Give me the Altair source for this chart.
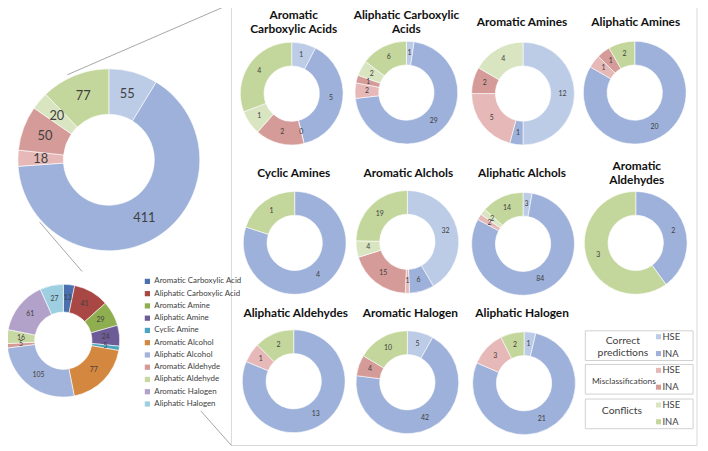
import altair as alt
import pandas as pd

# ---------------- data ----------------
classes = ["Correct HSE", "Correct INA", "Misclassification HSE",
           "Misclassification INA", "Conflict HSE", "Conflict INA"]
class_colors = ["#bccbe6", "#9db1da", "#e6b9b8", "#d49b98", "#d9e5c0", "#c3d69b"]

overall = [55, 411, 18, 50, 20, 77]

group_keys = ["arom_carb", "aliph_carb", "arom_amine", "aliph_amine",
              "cyclic_amine", "arom_alc", "aliph_alc", "arom_ald",
              "aliph_ald", "arom_hal", "aliph_hal"]
group_titles = [["Aromatic", "Carboxylic Acids"], ["Aliphatic Carboxylic", "Acids"],
                ["Aromatic Amines"], ["Aliphatic Amines"],
                ["Cyclic Amines"], ["Aromatic Alchols"], ["Aliphatic Alchols"],
                ["Aromatic", "Aldehydes"],
                ["Aliphatic Aldehydes"], ["Aromatic Halogen"], ["Aliphatic Halogen"]]
arom_carb = [1, 5, 0, 2, 1, 4]
aliph_carb = [1, 29, 2, 1, 2, 6]
arom_amine = [12, 1, 5, 2, 4, None]
aliph_amine = [None, 20, 1, 1, None, 2]
cyclic_amine = [None, 4, None, None, None, 1]
arom_alc = [32, 6, 1, 15, 4, 19]
aliph_alc = [3, 84, 2, None, 2, 14]
arom_ald = [None, 2, None, None, None, 3]
aliph_ald = [None, 13, 1, None, None, 2]
arom_hal = [5, 42, None, 4, None, 10]
aliph_hal = [1, 21, 3, None, None, 2]
group_values = [arom_carb, aliph_carb, arom_amine, aliph_amine, cyclic_amine,
                arom_alc, aliph_alc, arom_ald, aliph_ald, arom_hal, aliph_hal]

families = ["Aromatic Carboxylic Acid", "Aliphatic Carboxylic Acid", "Aromatic Amine",
            "Aliphatic Amine", "Cyclic Amine", "Aromatic Alcohol", "Aliphatic Alcohol",
            "Aromatic Aldehyde", "Aliphatic Aldehyde", "Aromatic Halogen", "Aliphatic Halogen"]
family_counts = [13, 41, 29, 24, 5, 77, 105, 5, 16, 61, 27]
family_colors = ["#4a70ad", "#a94744", "#8fae50", "#6d5b97", "#4aa5be", "#d4883f",
                 "#a2b3db", "#d49a98", "#c8d8a2", "#b2a2c9", "#9dcfe0"]

legend_groups = [["Correct", "predictions"], ["Misclassifications"], ["Conflicts"]]
legend_sub = ["HSE", "INA"]

# ---------------- tables ----------------
rows = []
for key, vals in [("overall", overall)] + list(zip(group_keys, group_values)):
    for i, (c, v) in enumerate(zip(classes, vals)):
        if v is None:
            continue
        rows.append({"donut": key, "cat": c, "idx": i, "value": v, "label": str(v)})
for i, (f, v) in enumerate(zip(families, family_counts)):
    rows.append({"donut": "families", "cat": f, "idx": i, "value": v, "label": str(v)})
df = pd.DataFrame(rows)

FONT = "Lato"
LABEL_COLOR = "#404040"
one = pd.DataFrame({"a": [0]})

layers = []

# panel box
layers.append(alt.Chart(one).mark_rect(fill="white", stroke="#d9d9d9", strokeWidth=1).encode(
    x=alt.value(226), x2=alt.value(697), y=alt.value(-7), y2=alt.value(440)))

# connector lines
for (x1, y1, x2, y2) in [(60, 65, 226, -7), (32, 214, 75, 264), (195, 405, 226, 440)]:
    layers.append(alt.Chart(one).mark_rule(color="#a6a6a6", strokeWidth=1).encode(
        x=alt.value(x1), y=alt.value(y1), x2=alt.value(x2), y2=alt.value(y2)))


def donut(key, cx, cy, r_out, r_in, fsize, domain, rng, legend=None, fweight="normal"):
    base = alt.Chart(df).transform_filter(alt.datum.donut == key)
    arc = base.mark_arc(innerRadius=r_in, outerRadius=r_out, stroke="white",
                        strokeWidth=0.6).encode(
        theta=alt.Theta("value:Q", stack=True),
        color=alt.Color("cat:N", scale=alt.Scale(domain=domain, range=rng), legend=legend),
        order=alt.Order("idx:Q"),
        x=alt.value(cx), y=alt.value(cy))
    txt = base.mark_text(radius=(r_in + r_out) / 2, fontSize=fsize, font=FONT,
                         color=LABEL_COLOR, fontWeight=fweight).encode(
        theta=alt.Theta("value:Q", stack=True),
        order=alt.Order("idx:Q"),
        text="label:N",
        x=alt.value(cx), y=alt.value(cy))
    return [arc, txt]


# big overall donut
layers += donut("overall", 102, 151, 92, 46, 13, classes, class_colors)

# family donut with legend
fam_legend = alt.Legend(title=None, orient="none", legendX=137, legendY=270,
                        symbolType="square", symbolSize=28, symbolStrokeWidth=0,
                        labelFontSize=8, labelFont=FONT, labelColor=LABEL_COLOR,
                        rowPadding=4.4, labelOffset=3)
layers += donut("families", 56, 334, 57, 29, 7, families, family_colors, legend=fam_legend)

# small donuts
centers = [(287, 84), (403, 83), (521, 84), (634, 83),
           (290, 235), (404, 234), (521, 236), (635, 235),
           (289, 375), (404, 376), (522, 377)]
# y is the first line's position
title_pos = [(289, 5), (403, 5), (520, 12), (635, 12),
             (289, 164), (405, 164), (520, 164), (636, 157),
             (291, 306), (407, 306), (520, 306)]
for key, title, (cx, cy), (tx, ty) in zip(group_keys, group_titles, centers, title_pos):
    layers += donut(key, cx, cy, 52, 28, 7, classes, class_colors)
    layers.append(alt.Chart(one).mark_text(
        text=title, font=FONT, fontSize=12, fontWeight="bold", color="#111111",
        align="center", baseline="middle", lineHeight=14).encode(
        x=alt.value(tx), y=alt.value(ty)))

# class legend (boxes)
box_y = [(324, 354), (358, 388), (393, 423)]
group_text_pos = [(622, 334), (623, 375), (621, 405)]
group_font = [10.5, 8.5, 10.5]
for gi, ((y1, y2), gname, (gx, gy), gf) in enumerate(zip(box_y, legend_groups,
                                                           group_text_pos, group_font)):
    layers.append(alt.Chart(one).mark_rect(fill="white", stroke="#d0d0d0", strokeWidth=1).encode(
        x=alt.value(584), x2=alt.value(693), y=alt.value(y1), y2=alt.value(y2)))
    layers.append(alt.Chart(one).mark_text(
        text=gname, font=FONT, fontSize=gf, color=LABEL_COLOR, align="center",
        baseline="middle", lineHeight=12).encode(x=alt.value(gx), y=alt.value(gy)))
    for si, sub in enumerate(legend_sub):
        sy = y1 + 6 + si * 17
        layers.append(alt.Chart(one).mark_square(size=26, color=class_colors[gi * 2 + si],
                                                 opacity=1).encode(
            x=alt.value(658), y=alt.value(sy)))
        layers.append(alt.Chart(one).mark_text(
            text=sub, font=FONT, fontSize=9.5, color=LABEL_COLOR, align="left",
            baseline="middle").encode(x=alt.value(662), y=alt.value(sy)))

chart = alt.layer(*layers).resolve_scale(theta="independent", color="independent").properties(
    width=700, height=443, padding=0, autosize=alt.AutoSizeParams(type="none")
).configure_view(stroke=None)

chart.save("out.html", embed_options={"renderer": "svg", "actions": False})
